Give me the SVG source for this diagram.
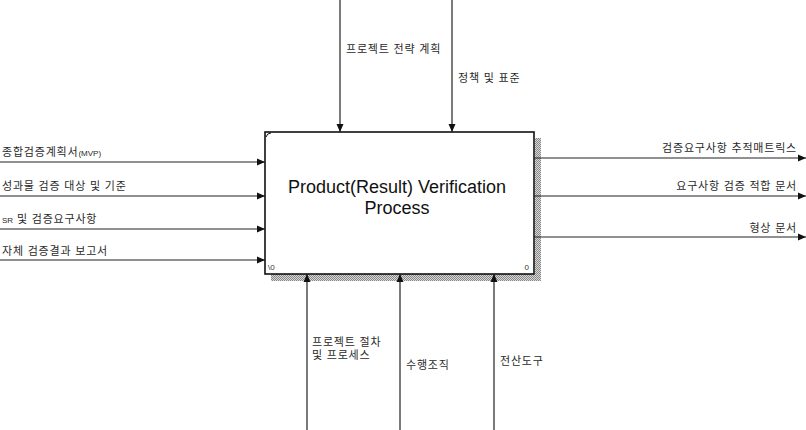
<svg xmlns="http://www.w3.org/2000/svg" width="806" height="430" viewBox="0 0 806 430">
<style>
.ln{stroke:#222;stroke-width:1.2;fill:none}
.lb{font-family:"Liberation Sans","Noto Sans CJK KR",sans-serif;font-size:11px;letter-spacing:0.8px;fill:#2a2a2a}
.s{font-size:8px;letter-spacing:0}
.tt{font-family:"Liberation Sans",Arial,sans-serif;font-size:18px;fill:#111}
.sm{font-family:"Liberation Sans",Arial,sans-serif;font-size:8px;fill:#333}
</style>
<defs>
<marker id="ah" viewBox="0 0 8 8" refX="8" refY="4" markerWidth="8" markerHeight="8" markerUnits="userSpaceOnUse" orient="auto">
<path d="M0,0.5 L8,4 L0,7.5 Z" fill="#111"/>
</marker>
<pattern id="hatch" width="2" height="2" patternUnits="userSpaceOnUse">
<rect width="2" height="2" fill="#d8d8d8"/>
<rect width="1" height="1" fill="#888"/>
<rect x="1" y="1" width="1" height="1" fill="#888"/>
</pattern>
</defs>
<g id="A0">
<rect x="535" y="138" width="6" height="143" fill="url(#hatch)"/>
<rect x="271" y="274" width="270" height="7" fill="url(#hatch)"/>
<rect x="265" y="132" width="269" height="142" fill="#fff" stroke="#111" stroke-width="1.6"/>
<path d="M266,137 Q267,133 271,133" stroke="#111" stroke-width="1" fill="none"/>
<text class="tt" x="397" y="193" text-anchor="middle">Product(Result) Verification</text>
<text class="tt" x="397" y="214" text-anchor="middle">Process</text>
<text class="sm" x="268" y="270">\0</text>
<text class="sm" x="529" y="270" text-anchor="end">0</text>
</g>
<g id="connectors">
<line class="ln" x1="0" y1="162" x2="265" y2="162" marker-end="url(#ah)"/>
<line class="ln" x1="0" y1="196" x2="265" y2="196" marker-end="url(#ah)"/>
<line class="ln" x1="0" y1="229" x2="265" y2="229" marker-end="url(#ah)"/>
<line class="ln" x1="0" y1="260" x2="265" y2="260" marker-end="url(#ah)"/>
<line class="ln" x1="534" y1="158" x2="806" y2="158" marker-end="url(#ah)"/>
<line class="ln" x1="534" y1="196" x2="806" y2="196" marker-end="url(#ah)"/>
<line class="ln" x1="534" y1="237" x2="806" y2="237" marker-end="url(#ah)"/>
<line class="ln" x1="340" y1="0" x2="340" y2="132" marker-end="url(#ah)"/>
<line class="ln" x1="452" y1="0" x2="452" y2="132" marker-end="url(#ah)"/>
<line class="ln" x1="307" y1="430" x2="307" y2="274" marker-end="url(#ah)"/>
<line class="ln" x1="400" y1="430" x2="400" y2="274" marker-end="url(#ah)"/>
<line class="ln" x1="494" y1="430" x2="494" y2="274" marker-end="url(#ah)"/>
<text class="lb" x="2" y="156">종합검증계획서<tspan class="s">(MVP)</tspan></text>
<text class="lb" x="2" y="190">성과물 검증 대상 및 기준</text>
<text class="lb" x="2" y="223"><tspan class="s">SR</tspan> 및 검증요구사항</text>
<text class="lb" x="2" y="255">자체 검증결과 보고서</text>
<text class="lb" x="797" y="152" text-anchor="end">검증요구사항 추적매트릭스</text>
<text class="lb" x="797" y="190" text-anchor="end">요구사항 검증 적합 문서</text>
<text class="lb" x="797" y="232" text-anchor="end">형상 문서</text>
<text class="lb" x="346" y="53">프로젝트 전략 계획</text>
<text class="lb" x="458" y="82">정책 및 표준</text>
<text class="lb" x="312" y="346">프로젝트 절차</text>
<text class="lb" x="312" y="359">및 프로세스</text>
<text class="lb" x="406" y="369">수행조직</text>
<text class="lb" x="500" y="365">전산도구</text>
</g>
</svg>
